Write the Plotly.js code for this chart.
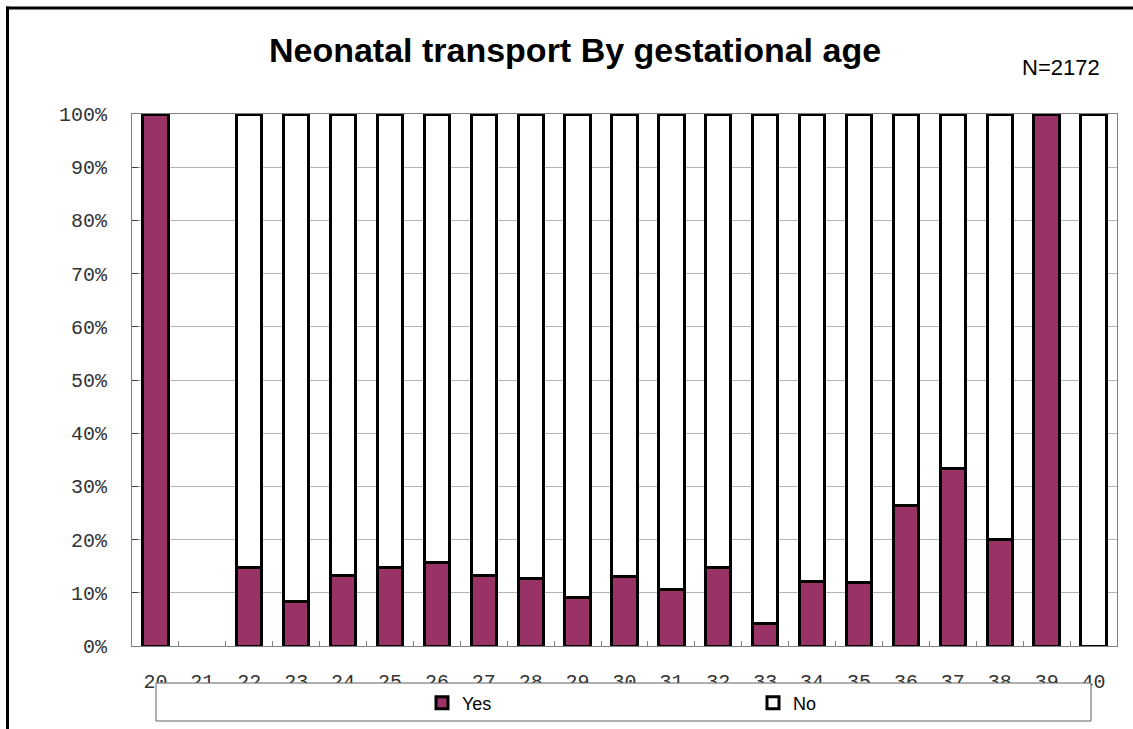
<!DOCTYPE html>
<html>
<head>
<meta charset="utf-8">
<script src="https://cdn.plot.ly/plotly-3.0.1.min.js"></script>
<style>html,body{margin:0;padding:0;background:#fff;}#chart{width:1133px;height:729px;}</style>
</head>
<body>
<div id="chart"></div>
<script>
// Gestational age (weeks)
var categories = ['20','21','22','23','24','25','26','27','28','29','30','31','32','33','34','35','36','37','38','39','40'];
// Share of births with neonatal transport (%); week 21 has no bar
var yesValues = [100, null, 14.7, 8.3, 13.3, 14.7, 15.7, 13.3, 12.6, 9.2, 13.0, 10.6, 14.8, 4.3, 12.2, 12.0, 26.4, 33.3, 20.0, 100, 0];
var noValues  = [0, null, 85.3, 91.7, 86.7, 85.3, 84.3, 86.7, 87.4, 90.8, 87.0, 89.4, 85.2, 95.7, 87.8, 88.0, 73.6, 66.7, 80.0, 0, 100];
var yTickVals = [0,10,20,30,40,50,60,70,80,90,100];
var yTickText = ['0%','10%','20%','30%','40%','50%','60%','70%','80%','90%','100%'];
var titleText = 'Neonatal transport By gestational age';
var nText = 'N=2172';

var W = 1133, H = 729;
var L = 132, R = 16, T = 114, B = 83;
var pw = W - L - R, ph = H - T - B;
function px(x){ return (x - L) / pw; }
function py(y){ return (H - B - y) / ph; }

var traces = [
  {type:'bar', name:'Yes', x:categories, y:yesValues,
   marker:{color:'#993366', line:{color:'#000000', width:3}}},
  {type:'bar', name:'No', x:categories, y:noValues,
   marker:{color:'#ffffff', line:{color:'#000000', width:3}}}
];

var layout = {
  width: W, height: H,
  margin:{l:L, r:R, t:T, b:B, pad:0, autoexpand:false},
  paper_bgcolor:'#ffffff', plot_bgcolor:'#ffffff',
  barmode:'stack', bargap:0.46,
  showlegend:true,
  font:{family:'Liberation Sans, Arial, sans-serif', color:'#000'},
  title:{text:titleText, x:575/W, xref:'container', xanchor:'center',
         y:1-50/H, yref:'container', yanchor:'middle',
         font:{family:'Liberation Sans, Arial, sans-serif', size:34, weight:'bold', color:'#000'}},
  xaxis:{type:'category', tickson:'boundaries', ticks:'inside', ticklen:5, tickcolor:'#808080',
         showline:true, linecolor:'#808080', linewidth:1, mirror:true,
         showgrid:false, zeroline:false, fixedrange:true,
         ticklabelstandoff:17,
         tickfont:{family:'Liberation Mono, monospace', size:20, color:'#333'}},
  yaxis:{range:[0,100], tickvals:yTickVals, ticktext:yTickText,
         ticks:'inside', ticklen:6, tickcolor:'#404040',
         showline:true, linecolor:'#808080', linewidth:1, mirror:true,
         showgrid:true, gridcolor:'#b4b4b4', gridwidth:1, zeroline:false, fixedrange:true,
         ticklabelstandoff:20,
         tickfont:{family:'Liberation Mono, monospace', size:20, color:'#333'}},
  legend:{orientation:'h', xref:'container', yref:'container', x:422/W, xanchor:'left', y:1-703/H, yanchor:'middle',
          bgcolor:'rgba(0,0,0,0)', borderwidth:0, entrywidth:286, entrywidthmode:'pixels',
          itemwidth:30, traceorder:'normal',
          font:{family:'Liberation Sans, Arial, sans-serif', size:18, color:'#000'}},
  shapes:[
    {type:'rect', xref:'paper', yref:'paper', x0:px(156), x1:px(1091), y0:py(683), y1:py(721),
     fillcolor:'#ffffff', line:{color:'#606060', width:1}, layer:'above'},
    {type:'line', xref:'paper', yref:'paper', x0:px(6), x1:px(1140), y0:py(8), y1:py(8),
     line:{color:'#000', width:3}, layer:'above'},
    {type:'line', xref:'paper', yref:'paper', x0:px(7.5), x1:px(7.5), y0:py(6.5), y1:py(740),
     line:{color:'#000', width:3}, layer:'above'}
  ],
  annotations:[
    {text:nText, xref:'paper', yref:'paper', x:px(1061), y:py(68), xanchor:'center', yanchor:'middle',
     showarrow:false, font:{family:'Liberation Sans, Arial, sans-serif', size:22, color:'#000'}}
  ]
};

Plotly.newPlot('chart', traces, layout, {displayModeBar:false, staticPlot:true});
</script>
</body>
</html>
